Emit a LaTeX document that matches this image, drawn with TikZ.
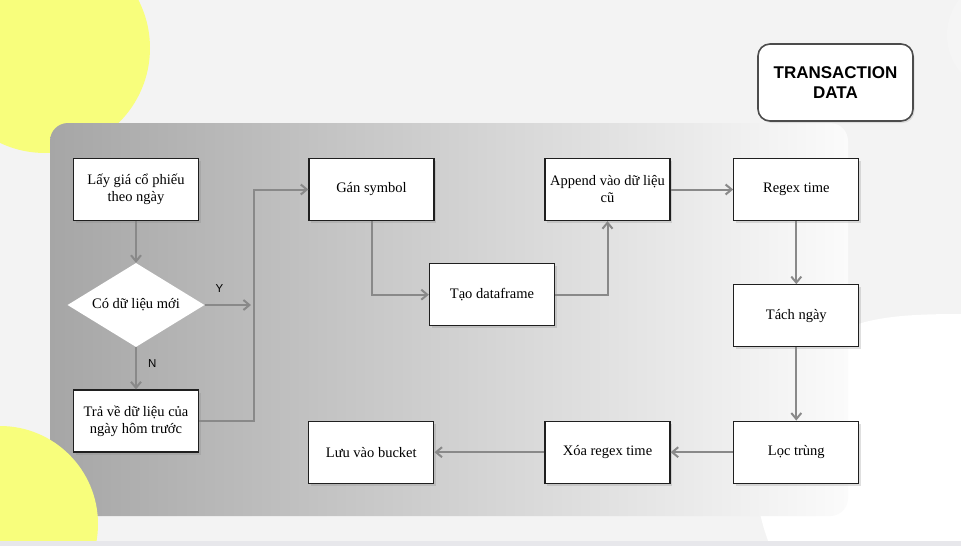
\documentclass[tikz,border=0pt]{standalone}
\usepackage{fontspec}
\setmainfont{Liberation Serif}
\newfontfamily\headfont{Liberation Sans}
\usetikzlibrary{shapes.geometric, arrows.meta, shadows}
\definecolor{bggray}{HTML}{F3F3F3}
\definecolor{sunyellow}{HTML}{F8FE7C}
\definecolor{panelleft}{HTML}{A6A6A6}
\definecolor{panelright}{HTML}{FBFBFB}
\definecolor{flowgray}{HTML}{898989}
\definecolor{stripgray}{HTML}{E7E7EB}
\definecolor{faintgray}{HTML}{F5F5F5}

\begin{document}
\begin{tikzpicture}[x=1pt, y=-1pt,
    box/.style={rectangle, draw=black!88, line width=1.3pt, fill=white, minimum width=125pt, minimum height=62pt, align=center, inner sep=2pt, font=\fontsize{14.5}{17}\selectfont, drop shadow={shadow xshift=2pt, shadow yshift=-2.5pt, opacity=0.25}},
    decision/.style={diamond, shape aspect=1.63, fill=white, minimum width=137pt, minimum height=84pt, inner sep=0pt, font=\fontsize{14.5}{17}\selectfont},
    title/.style={rectangle, rounded corners=12pt, draw=black!70, line width=1.6pt, fill=white, minimum width=155pt, minimum height=77pt, align=center, font=\headfont\bfseries\fontsize{17}{20}\selectfont, drop shadow={shadow xshift=1.5pt, shadow yshift=-2pt, opacity=0.2}},
    flow/.style={draw=flowgray, line width=2pt, -{Straight Barb[length=6pt,width=10pt]}},
    lbl/.style={inner sep=0pt, font=\headfont\fontsize{11.5}{13}\selectfont}]
    \useasboundingbox (0,0) rectangle (961,546);
    \clip (0,0) rectangle (961,546);
    \fill[bggray] (0,0) rectangle (961,546);
    \fill[faintgray] (1005,35) circle (58pt);
    \fill[sunyellow] (45,48) circle (105pt);
    \fill[white] (770,546) .. controls (740,470) and (760,400) .. (800,360) .. controls (840,320) and (880,314) .. (961,314) -- (961,546) -- cycle;
    \shade[left color=panelleft, right color=panelright, rounded corners=18pt] (50,123) rectangle (848,516);
    \fill[sunyellow] (0,524) circle (98pt);
    \fill[stripgray] (0,541) rectangle (961,546);

    \node[title] (t1) at (835.5,82.5) {TRANSACTION\\DATA};

    \node[box] (n1) at (136,189.5) {Lấy giá cổ phiếu\\theo ngày};
    \node[decision] (n2) at (136,305) {Có dữ liệu mới};
    \node[box] (n3) at (136,421) {Trả về dữ liệu của\\ngày hôm trước};
    \node[box] (n4) at (371.5,189.5) {Gán symbol};
    \node[box] (n5) at (492,294.7) {Tạo dataframe};
    \node[box] (n6) at (607.5,189.5) {Append vào dữ liệu\\cũ};
    \node[box] (n7) at (796.3,189.5) {Regex time};
    \node[box] (n8) at (796.3,315.8) {Tách ngày};
    \node[box] (n9) at (796.3,452.2) {Lọc trùng};
    \node[box] (n10) at (607.5,452.2) {Xóa regex time};
    \node[box] (n11) at (371.3,452.2) {Lưu vào bucket};
    \coordinate (c1) at (254,305);

    \draw[flow] (n1) -- (n2);
    \draw[flow, shorten >=3pt] (n2) -- node[lbl, pos=0.3, above=12pt] {Y} (c1);
    \draw[flow] (n2) -- node[lbl, pos=0.38, right=11pt] {N} (n3);
    \draw[flow] (n3) -| (c1) |- (n4);
    \draw[flow] (n4) |- (n5);
    \draw[flow] (n5) -| (n6);
    \draw[flow] (n6) -- (n7);
    \draw[flow] (n7) -- (n8);
    \draw[flow] (n8) -- (n9);
    \draw[flow] (n9) -- (n10);
    \draw[flow] (n10) -- (n11);
\end{tikzpicture}
\end{document}
